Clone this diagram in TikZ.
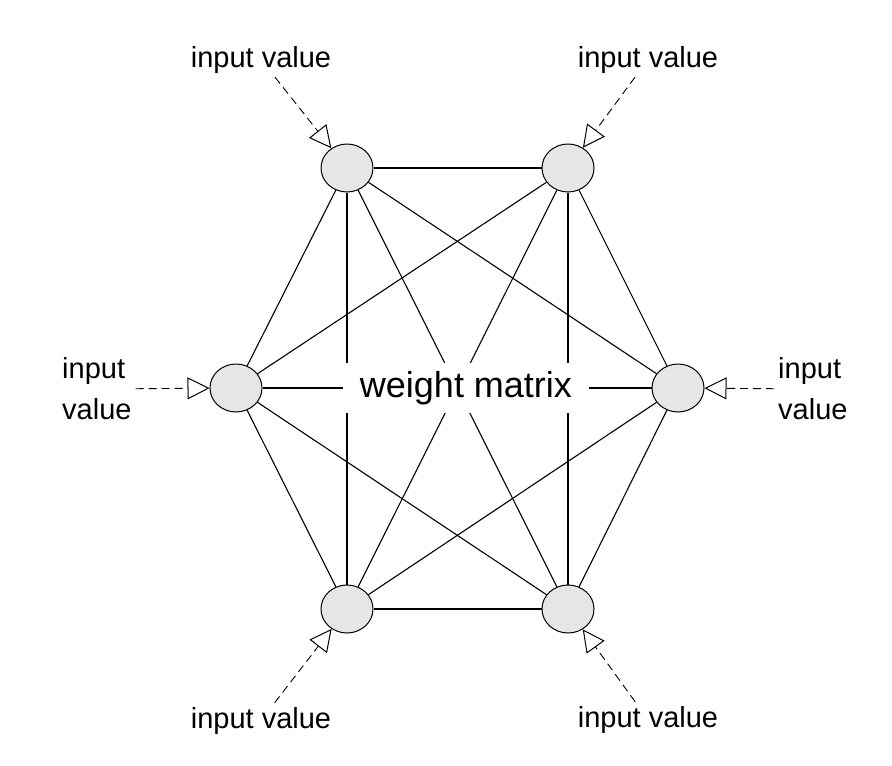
\documentclass[tikz,border=0pt]{standalone}
\usepackage{fontspec}
\setmainfont{Liberation Sans}
\usetikzlibrary{arrows.meta,shapes.geometric}
\definecolor{neurongray}{RGB}{230,230,230}
\begin{document}
\begin{tikzpicture}[x=1pt, y=-1pt,
		neuron/.style={ellipse, draw, line width=1pt, fill=neurongray, minimum width=52pt, minimum height=48pt, inner sep=0pt},
		weight/.style={line width=1.1pt},
		feed/.style={-{Triangle[open, length=22pt, width=22pt, line width=1pt]}, line width=0.9pt, dash pattern=on 8pt off 5pt},
		inlabel/.style={font=\fontsize{29}{41}\selectfont, inner sep=4pt}]
			\useasboundingbox (0,0) rectangle (892,766);

			\node[neuron] (n1) at (347,168) {};
			\node[neuron] (n2) at (568,168) {};
			\node[neuron] (n3) at (236,388) {};
			\node[neuron] (n4) at (678,388) {};
			\node[neuron] (n5) at (347,609) {};
			\node[neuron] (n6) at (568,609) {};

			\draw[weight] (n1) -- (n2);
			\draw[weight] (n1) -- (n3);
			\draw[weight] (n1) -- (n4);
			\draw[weight] (n1) -- (n5);
			\draw[weight] (n1) -- (n6);
			\draw[weight] (n2) -- (n3);
			\draw[weight] (n2) -- (n4);
			\draw[weight] (n2) -- (n5);
			\draw[weight] (n2) -- (n6);
			\draw[weight] (n3) -- (n4);
			\draw[weight] (n3) -- (n5);
			\draw[weight] (n3) -- (n6);
			\draw[weight] (n4) -- (n5);
			\draw[weight] (n4) -- (n6);
			\draw[weight] (n5) -- (n6);

			\node[fill=white, inner xsep=17pt, inner ysep=8pt, font=\fontsize{36}{40}\selectfont] (wm) at (466,388) {weight matrix};

			\node[inlabel, anchor=base] (in1) at (261,67) {input value};
			\node[inlabel, anchor=base] (in2) at (648,67) {input value};
			\node[inlabel, anchor=west, align=left] (in3) at (58,389) {input\\value};
			\node[inlabel, anchor=west, align=left] (in4) at (774,389) {input\\value};
			\node[inlabel, anchor=base] (in5) at (261,728) {input value};
			\node[inlabel, anchor=base] (in6) at (648,727) {input value};

			\draw[feed] (in1) -- (n1);
			\draw[feed] (in2) -- (n2);
			\draw[feed] (in3) -- (n3);
			\draw[feed] (in4) -- (n4);
			\draw[feed] (in5) -- (n5);
			\draw[feed] (in6) -- (n6);
		\end{tikzpicture}
\end{document}
